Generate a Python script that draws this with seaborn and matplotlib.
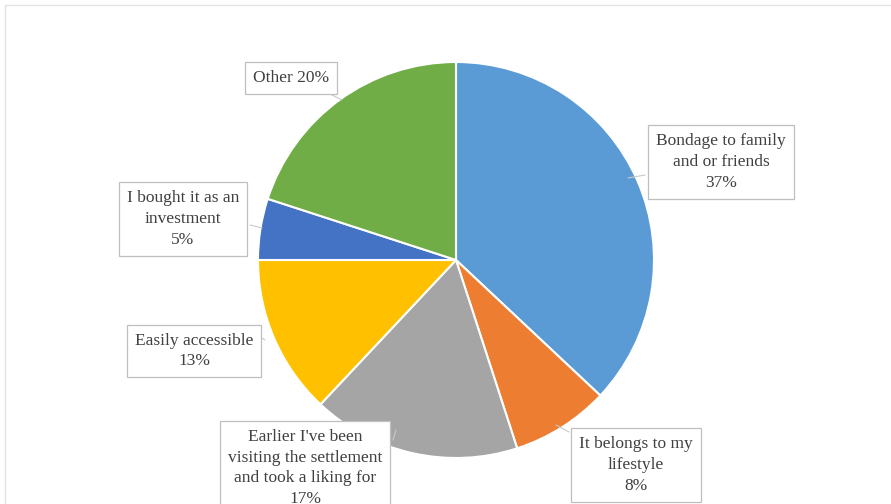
import matplotlib
matplotlib.use("Agg")
import matplotlib.pyplot as plt
import seaborn as sns

# Reasons for choosing the settlement (share of respondents)
categories = [
    "Bondage to family\nand or friends",
    "It belongs to my\nlifestyle",
    "Earlier I've been\nvisiting the settlement\nand took a liking for",
    "Easily accessible",
    "I bought it as an\ninvestment",
    "Other",
]
shares = [37, 8, 17, 13, 5, 20]
colors = ["#5B9BD5", "#ED7D31", "#A5A5A5", "#FFC000", "#4472C4", "#70AD47"]

sns.set_theme(style="white")
plt.rcParams["font.family"] = ["Liberation Serif", "DejaVu Serif"]

W, H = 891, 504
fig = plt.figure(figsize=(W / 100, H / 100), dpi=100)
ax = fig.add_axes([0, 0, 1, 1])

cx, cy, r = 456, H - 260, 198
ax.pie(shares, colors=colors, startangle=90, counterclock=False,
       center=(cx, cy), radius=r, frame=True,
       wedgeprops=dict(edgecolor="white", linewidth=1.5))
ax.set_xlim(0, W)
ax.set_ylim(0, H)
ax.set_aspect("equal")
ax.axis("off")

# outer chart frame
ax.plot([5, 5, W + 5], [-5, H - 5, H - 5], color="#E3E3E3", lw=1)

# label positions in pixel coordinates (x, y from top) and leader lines
label_pos = [(721, 162), (636, 465), (305, 468), (194, 351), (183, 219), (291, 78)]
leaders = [
    [(645, 175), (628, 178)],
    [(569, 432), (556, 425)],
    [(393, 440), (396, 430)],
    [(265, 340), (262, 338)],
    [(250, 225), (262, 228)],
    [(330, 94), (342, 100)],
]

for name, val, (lx, ly), ld in zip(categories, shares, label_pos, leaders):
    if name == "Other":
        txt = f"{name} {val}%"
    else:
        txt = f"{name}\n{val}%"
    (x0, y0), (x1, y1) = ld
    ax.plot([x0, x1], [H - y0, H - y1], color="#C8C8C8", lw=0.8, zorder=2)
    ax.text(lx, H - ly, txt, ha="center", va="center", fontsize=12.5,
            color="#404040", linespacing=1.4, zorder=3,
            bbox=dict(boxstyle="square,pad=0.45", fc="white", ec="#BFBFBF", lw=0.9))

fig.savefig("out.png", dpi=100, facecolor="white")
